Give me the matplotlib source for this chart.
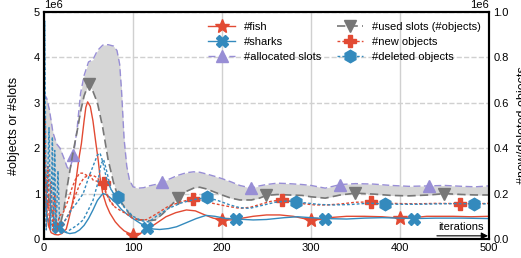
import numpy as np
import matplotlib
matplotlib.use('Agg')
import matplotlib.pyplot as plt

plt.rcParams['font.family'] = ['Liberation Sans', 'DejaVu Sans']

# values in millions
fish_x = [0, 1, 2, 3, 5, 8, 12, 16, 20, 25, 28, 31, 34, 36, 39, 42, 45, 47, 49, 52,
          55, 58, 61, 63, 66, 70, 74, 80, 85, 90, 96, 100, 108, 115, 125, 137, 148, 160, 170, 182,
          190, 200, 210, 220, 235, 250, 265, 280, 292, 300, 310, 320, 340, 360, 380, 400, 415, 430, 460, 480,
          500]
fish_y = [0.82, 1.5, 1.3, 0.6, 0.3, 0.14, 0.1, 0.09, 0.12, 0.22, 0.45, 0.71, 1.0, 1.3, 1.75, 2.1, 2.6, 2.9, 3.02, 2.92,
          2.6, 2.15, 1.72, 1.35, 1.0, 0.75, 0.57, 0.38, 0.27, 0.18, 0.12, 0.08, 0.12, 0.2, 0.33, 0.49, 0.58, 0.64, 0.62, 0.52,
          0.46, 0.42, 0.42, 0.45, 0.5, 0.53, 0.53, 0.5, 0.45, 0.42, 0.43, 0.47, 0.5, 0.5, 0.49, 0.46, 0.47, 0.5, 0.5, 0.49,
          0.5]

sharks_x = [0, 1, 3, 6, 10, 13, 16, 20, 25, 29, 35, 40, 45, 50, 55, 60, 66, 70, 75, 81,
            87, 93, 100, 107, 116, 123, 130, 140, 149, 160, 171, 182, 192, 205, 216, 235, 250, 270, 285, 300,
            316, 340, 360, 380, 400, 416, 440, 470, 500]
sharks_y = [0.9, 0.8, 0.5, 0.36, 0.3, 0.28, 0.27, 0.2, 0.14, 0.12, 0.14, 0.2, 0.3, 0.45, 0.64, 0.85, 1.0, 0.98, 0.9, 0.79,
            0.65, 0.55, 0.45, 0.36, 0.25, 0.22, 0.21, 0.23, 0.27, 0.36, 0.45, 0.52, 0.5, 0.45, 0.44, 0.42, 0.43, 0.47, 0.49, 0.47,
            0.45, 0.44, 0.46, 0.47, 0.46, 0.45, 0.46, 0.46, 0.45]

slots_x = [0, 3, 6, 10, 14, 18, 22, 26, 29, 33, 37, 41, 45, 50, 55, 60, 66, 72, 78, 82,
           85, 87, 90, 93, 96, 100, 106, 112, 118, 125, 133, 142, 150, 160, 168, 175, 183, 192, 200, 210,
           220, 233, 242, 250, 262, 275, 290, 300, 316, 333, 350, 370, 390, 410, 433, 450, 470, 485, 500]
alloc_y = [3.2, 3.1, 2.85, 2.35, 2.1, 2.0, 1.8, 1.58, 1.52, 1.85, 2.4, 3.2, 3.6, 3.9, 3.95, 4.15, 4.27, 4.28, 4.25, 4.15,
           3.85, 3.3, 2.2, 1.6, 1.3, 1.15, 1.12, 1.13, 1.17, 1.2, 1.26, 1.33, 1.4, 1.46, 1.48, 1.47, 1.43, 1.38, 1.33, 1.26,
           1.18, 1.12, 1.17, 1.2, 1.23, 1.22, 1.2, 1.18, 1.12, 1.2, 1.22, 1.21, 1.18, 1.16, 1.17, 1.18, 1.16, 1.15, 1.17]
used_y = [1.8, 1.2, 0.8, 0.5, 0.35, 0.3, 0.62, 1.15, 1.5, 1.95, 2.35, 2.8, 3.15, 3.42, 3.25, 3.0, 2.45, 1.75, 1.25, 1.0,
          0.88, 0.8, 0.72, 0.63, 0.55, 0.48, 0.42, 0.42, 0.4, 0.42, 0.55, 0.72, 0.9, 1.05, 1.12, 1.14, 1.1, 1.03, 0.97, 0.9,
          0.86, 0.86, 0.9, 0.96, 0.98, 0.97, 0.96, 0.93, 0.9, 0.97, 1.01, 0.99, 0.96, 0.95, 0.97, 1.0, 0.98, 0.97, 0.97]

# right axis series (millions)
new_x = [0, 1, 2.5, 4.5, 6, 8, 10, 12, 14, 17, 22, 27, 31, 35, 40, 44, 48, 51, 55, 59,
         63, 67, 70, 74, 80, 86, 93, 100, 107, 115, 126, 140, 155, 167, 175, 190, 205, 220, 232, 245,
         256, 267, 280, 292, 305, 318, 335, 350, 367, 384, 400, 420, 440, 467, 484, 500]
new_y = [0.05, 0.54, 0.05, 0.32, 0.05, 0.25, 0.04, 0.2, 0.03, 0.1, 0.12, 0.17, 0.22, 0.26, 0.29, 0.29, 0.28, 0.285, 0.26, 0.255,
         0.25, 0.245, 0.2, 0.17, 0.14, 0.125, 0.11, 0.09, 0.085, 0.085, 0.11, 0.145, 0.165, 0.176, 0.172, 0.157, 0.145, 0.135, 0.14, 0.155,
         0.167, 0.171, 0.165, 0.155, 0.15, 0.15, 0.155, 0.162, 0.163, 0.158, 0.156, 0.155, 0.157, 0.156, 0.155, 0.157]
new_alt_x = [20, 25, 30, 35, 40, 45, 50, 55, 60, 65, 70, 75, 80]
new_alt_y = [0.06, 0.09, 0.13, 0.19, 0.24, 0.27, 0.28, 0.28, 0.27, 0.24, 0.2, 0.16, 0.14]

del_x = [0, 0.8, 2.5, 5.6, 7.5, 9.4, 10.8, 12, 13.5, 15.7, 17.6, 25, 31, 37, 44, 50, 55, 60, 63, 66,
         70, 74, 78, 83, 90, 100, 110, 118, 126, 140, 155, 170, 183, 195, 209, 220, 231, 245, 260, 272,
         283, 296, 310, 325, 345, 365, 383, 400, 420, 445, 465, 483, 500]
del_y = [0.05, 0.96, 0.04, 0.49, 0.04, 0.45, 0.04, 0.39, 0.03, 0.3, 0.05, 0.09, 0.13, 0.16, 0.2, 0.27, 0.32, 0.37, 0.378, 0.34,
         0.27, 0.23, 0.2, 0.186, 0.14, 0.1, 0.08, 0.075, 0.1, 0.135, 0.16, 0.175, 0.183, 0.17, 0.15, 0.138, 0.135, 0.148, 0.162, 0.167,
         0.164, 0.158, 0.152, 0.15, 0.152, 0.158, 0.154, 0.153, 0.153, 0.155, 0.156, 0.155, 0.155]
del_alt_x = [17.6, 25, 29, 37, 44, 50, 55, 60, 64, 67, 71, 75, 80, 88]
del_alt_y = [0.03, 0.03, 0.04, 0.06, 0.084, 0.13, 0.17, 0.24, 0.33, 0.35, 0.29, 0.22, 0.19, 0.15]

fish_marks = [0, 100, 200, 300, 400]
sharks_marks = [16, 116, 216, 316, 416]
alloc_marks = [33, 133, 233, 333, 433]
used_marks = [50, 150, 250, 350, 450]
new_marks = [67, 167, 267, 367, 467]
del_marks = [83, 183, 283, 383, 483]

red = '#E24A33'
blue = '#348ABD'
purple = '#988ED5'
gray = '#777777'
M = 1e6


def idx(xs, marks):
    return [xs.index(m) for m in marks]


fig = plt.figure(figsize=(5.21, 2.58), dpi=100)
ax = fig.add_axes([0.0845, 0.0736, 0.854, 0.88])
ax2 = ax.twinx()

ax.fill_between(slots_x, np.array(alloc_y) * M, np.array(used_y) * M, color='#d6d6d6', lw=0)
l_fish, = ax.plot(fish_x, np.array(fish_y) * M, color=red, lw=1, marker='*', ms=10,
                  markevery=idx(fish_x, fish_marks), label='#fish')
l_sharks, = ax.plot(sharks_x, np.array(sharks_y) * M, color=blue, lw=1, marker='X', ms=9,
                    markevery=idx(sharks_x, sharks_marks), label='#sharks')
l_alloc, = ax.plot(slots_x, np.array(alloc_y) * M, color=purple, lw=1, ls=(0, (5, 2.5)), marker='^', ms=9,
                   markevery=idx(slots_x, alloc_marks), label='#allocated slots')
l_used, = ax.plot(slots_x, np.array(used_y) * M, color=gray, lw=1.2, ls=(0, (5, 2.5)), marker='v', ms=9,
                  markevery=idx(slots_x, used_marks), label='#used slots (#objects)')

dot = (0, (2, 1.5))
l_new, = ax2.plot(new_x, np.array(new_y) * M, color=red, lw=1, ls=dot, marker='P', ms=9,
                  markevery=idx(new_x, new_marks), label='#new objects')
ax2.plot(new_alt_x, np.array(new_alt_y) * M, color=red, lw=1, ls=dot)
l_del, = ax2.plot(del_x, np.array(del_y) * M, color=blue, lw=1, ls=dot, marker='h', ms=9,
                  markevery=idx(del_x, del_marks), label='#deleted objects')
ax2.plot(del_alt_x, np.array(del_alt_y) * M, color=blue, lw=1, ls=dot)

ax.set_xlim(0, 500)
ax.set_ylim(0, 5 * M)
ax2.set_ylim(0, 1 * M)
ax.set_xticks([0, 100, 200, 300, 400, 500])
ax.set_yticks(np.arange(0, 6) * M)
ax2.set_yticks(np.arange(0, 1.01, 0.2) * M)

ax.set_axisbelow(True)
ax.grid(axis='x', color='#d0d0d0', lw=1, ls='-')
ax.grid(axis='y', color='#d0d0d0', lw=1, ls='--')

for a in (ax, ax2):
    a.tick_params(length=0, labelsize=8, pad=3)
    a.yaxis.get_offset_text().set_fontsize(8)
    for s in a.spines.values():
        s.set_color('black')
        s.set_linewidth(1.5)

ax.set_ylabel('#objects or #slots', fontsize=9)
ax.yaxis.set_label_coords(-0.055, 0.5)
ax2.set_ylabel('#new/deleted objects', fontsize=9)
ax2.yaxis.set_label_coords(1.062, 0.5)

ax.annotate('', xy=(0.998, 0.014), xytext=(0.883, 0.014), xycoords='axes fraction',
            arrowprops=dict(arrowstyle='-|>', color='black', lw=0.8, shrinkA=0, shrinkB=0))
ax.text(0.885, 0.03, 'iterations', transform=ax.transAxes, fontsize=8, ha='left', va='bottom')

handles = [l_fish, l_sharks, l_alloc, l_used, l_new, l_del]
ax2.legend(handles=handles, labels=[h.get_label() for h in handles], ncol=2, frameon=False,
           loc='upper right', bbox_to_anchor=(1.0, 0.99), fontsize=8, numpoints=1,
           handlelength=2.4, columnspacing=1.4, labelspacing=0.45, borderaxespad=0.3)

fig.savefig('out.png', dpi=100)
